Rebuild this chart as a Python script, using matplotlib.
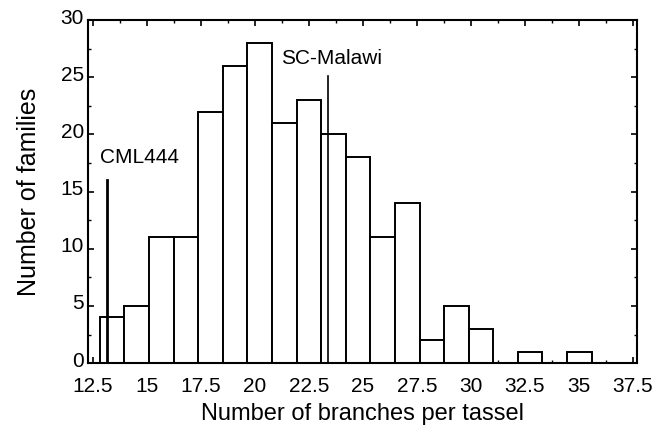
import numpy as np
import matplotlib
matplotlib.use("Agg")
import matplotlib.pyplot as plt
import matplotlib.transforms as mtransforms
from matplotlib.ticker import MultipleLocator, FormatStrFormatter

plt.rcParams['font.family'] = ['Liberation Sans', 'DejaVu Sans']

# histogram of tassel branch counts: bin start, bin width and family counts
bin_start = 12.82
bin_width = 1.139
counts = [4, 5, 11, 11, 22, 26, 28, 21, 23, 20, 18, 11, 14, 2, 5, 3, 0, 1, 0, 1]

# parental lines marked on the distribution
parents = ["CML444", "SC-Malawi"]
parent_x = [13.15, 23.38]
parent_top = [16.0, 25.1]
label_xy = [(12.82, 18.0), (21.2, 26.6)]

xticks = [12.5, 15, 17.5, 20, 22.5, 25, 27.5, 30, 32.5, 35, 37.5]
yticks = [0, 5, 10, 15, 20, 25, 30]

edges = bin_start + bin_width * np.arange(len(counts) + 1)

fig = plt.figure(figsize=(6.58, 4.37), dpi=100)
ax = fig.add_axes([0.1337, 0.169, 0.834, 0.785])

ax.bar(edges[:-1], counts, width=bin_width, align='edge',
       color='white', edgecolor='black', linewidth=1.4, zorder=2)

for name, x, top, (tx, ty), lw in zip(parents, parent_x, parent_top, label_xy, [2.0, 1.2]):
    ax.plot([x, x], [0, top], color='black', linewidth=lw, zorder=3)
    ax.text(tx, ty, name, fontsize=15, va='center', ha='left')

ax.set_xlim(12.27, 37.69)
ax.set_ylim(0, 30)
ax.set_xticks(xticks)
ax.set_yticks(yticks)
ax.xaxis.set_major_formatter(FormatStrFormatter('%g'))
ax.xaxis.set_minor_locator(MultipleLocator(1.25))
ax.yaxis.set_minor_locator(MultipleLocator(2.5))
ax.tick_params(which='both', direction='in', top=True, right=True)
ax.tick_params(which='major', length=4, width=1.2, labelsize=15)
ax.tick_params(which='minor', length=2.5, width=1.0)
ax.tick_params(axis='x', pad=10)
ax.tick_params(axis='y', pad=3)
for s in ax.spines.values():
    s.set_linewidth(1.5)

# nudge the y tick labels up a little
shift = mtransforms.ScaledTranslation(0, 4 / 100, fig.dpi_scale_trans)
for lab in ax.get_yticklabels():
    lab.set_transform(lab.get_transform() + shift)

ax.set_xlabel("Number of branches per tassel", fontsize=17, labelpad=5)
ax.set_ylabel("Number of families", fontsize=18, labelpad=14)

fig.savefig("out.png", dpi=100)
